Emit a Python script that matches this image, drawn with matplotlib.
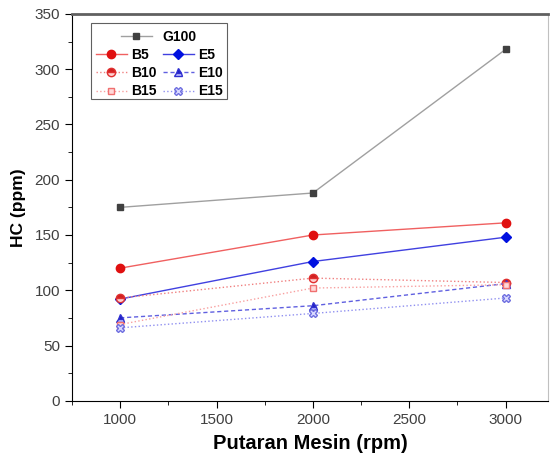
import matplotlib.pyplot as plt
from matplotlib.patches import Rectangle
from matplotlib.ticker import MultipleLocator

plt.rcParams['font.family'] = ['Liberation Sans', 'DejaVu Sans']

rpm = [1000, 2000, 3000]
g100 = [175, 188, 318]
b5 = [120, 150, 161]
e5 = [92, 126, 148]
b10 = [93, 111, 107]
e10 = [75, 86, 106]
b15 = [69, 102, 105]
e15 = [66, 79, 93]

fig = plt.figure(figsize=(5.52, 4.66), dpi=100)
ax = fig.add_axes([0.1304, 0.140, 0.8624, 0.830])

l_g = ax.plot(rpm, g100, color='#a0a0a0', lw=1, marker='s', ms=5,
              mfc='#404040', mec='#404040', label='G100')[0]
l_b5 = ax.plot(rpm, b5, color='#f06060', lw=1, marker='o', ms=6,
               mfc='#e01010', mec='#e01010', label='B5')[0]
l_e5 = ax.plot(rpm, e5, color='#4040e0', lw=1, marker='D', ms=5,
               mfc='#0010e0', mec='#0010e0', label='E5')[0]
l_b10 = ax.plot(rpm, b10, color='#f08080', lw=1, ls=':', marker='o', ms=6,
                fillstyle='top', mfc='#d02020', mfcalt='#ffd0d0', mec='#e03030',
                label='B10')[0]
l_e10 = ax.plot(rpm, e10, color='#6060e0', lw=1, ls=(0, (3, 2)), marker='^', ms=6,
                fillstyle='top', mfc='#2020c0', mfcalt='#c0c0ff', mec='#3030d0',
                label='E10')[0]
l_b15 = ax.plot(rpm, b15, color='#f8a0a0', lw=1, ls=':', marker='s', ms=5,
                mfc='#ffd8d8', mec='#f07070', label='B15')[0]
l_e15 = ax.plot(rpm, e15, color='#9090f0', lw=1, ls=':', marker='X', ms=6,
                mfc='#d8d8ff', mec='#7070e0', label='E15')[0]

ax.set_xlim(750, 3220)
ax.set_ylim(0, 350)
ax.xaxis.set_major_locator(MultipleLocator(500))
ax.xaxis.set_minor_locator(MultipleLocator(250))
ax.yaxis.set_major_locator(MultipleLocator(50))
ax.yaxis.set_minor_locator(MultipleLocator(25))
ax.tick_params(which='both', direction='out', top=False, right=False,
               labelsize=11, labelcolor='#404040')
ax.tick_params(which='major', length=5)
ax.tick_params(which='minor', length=3)
ax.spines['top'].set_linewidth(2)
ax.spines['top'].set_color('#606060')
ax.spines['right'].set_color('#c0c0c0')

ax.set_xlabel('Putaran Mesin (rpm)', fontsize=14.5, fontweight='bold', labelpad=5)
ax.set_ylabel('HC (ppm)', fontsize=12.5, fontweight='bold', labelpad=6)

# legend frame drawn by hand, G100 centred on top
ax.add_patch(Rectangle((0.040, 0.780), 0.286, 0.196, transform=ax.transAxes,
                       fill=False, ec='#606060', lw=0.8, zorder=5))
leg1 = ax.legend(handles=[l_g], loc='upper center', bbox_to_anchor=(0.183, 0.985),
                 frameon=False, handlelength=2.2, borderpad=0.2,
                 prop={'weight': 'bold', 'size': 10})
ax.add_artist(leg1)
ax.legend(handles=[l_b5, l_b10, l_b15, l_e5, l_e10, l_e15], ncol=2,
          loc='upper left', bbox_to_anchor=(0.030, 0.937), frameon=False,
          handlelength=2.2, columnspacing=0.5, labelspacing=0.3,
          handletextpad=0.3, borderpad=0.2, prop={'weight': 'bold', 'size': 10})

fig.savefig('out.png', dpi=100)
